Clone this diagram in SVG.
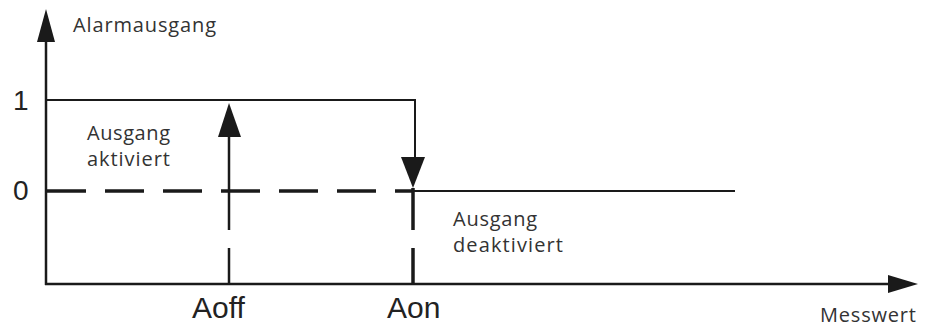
<svg xmlns="http://www.w3.org/2000/svg" width="933" height="333" viewBox="0 0 933 333">
<style>
.ln{stroke:#1a1a1a;fill:none}
.ah{fill:#1a1a1a}
.t{font-family:"Open Sans","Noto Sans",sans-serif;fill:#333;font-size:20px}
.a{font-family:"Liberation Sans",Arial,sans-serif;fill:#222}
</style>
<rect width="933" height="333" fill="#fff"/>
<g id="connectors">
<line class="ln" x1="46" y1="285" x2="46" y2="38" stroke-width="2.5"/>
<polygon class="ah" points="46,9 37,42 55,42"/>
<line class="ln" x1="45" y1="284" x2="892" y2="284" stroke-width="2.5"/>
<polygon class="ah" points="918,284 888,275 888,293"/>
<polyline class="ln" points="46,100 415,100 415,160" stroke-width="2"/>
<polygon class="ah" points="413,188 401,157 425,157"/>
<line class="ln" x1="47" y1="191" x2="413" y2="191" stroke-width="3.5" stroke-dasharray="39 19"/>
<line class="ln" x1="413" y1="191" x2="735" y2="191" stroke-width="2"/>
<line class="ln" x1="229" y1="191" x2="229" y2="134" stroke-width="2.5"/>
<polygon class="ah" points="229,103 218,137 241,137"/>
<line class="ln" x1="229" y1="191" x2="229" y2="230" stroke-width="2.5"/>
<line class="ln" x1="229" y1="248" x2="229" y2="285" stroke-width="2.5"/>
<line class="ln" x1="413" y1="188" x2="413" y2="230" stroke-width="3.5"/>
<line class="ln" x1="413" y1="248" x2="413" y2="285" stroke-width="3.5"/>
</g>
<g id="labels">
<text class="t" x="73" y="32" textLength="143" lengthAdjust="spacing">Alarmausgang</text>
<text class="a" x="13" y="110" font-size="28">1</text>
<text class="a" x="13" y="200" font-size="28">0</text>
<text class="t" x="87" y="140" textLength="83" lengthAdjust="spacing">Ausgang</text>
<text class="t" x="87" y="166" textLength="83" lengthAdjust="spacing">aktiviert</text>
<text class="t" x="453" y="226" textLength="84" lengthAdjust="spacing">Ausgang</text>
<text class="t" x="453" y="252" textLength="110" lengthAdjust="spacing">deaktiviert</text>
<text class="a" x="192" y="318" font-size="30">Aoff</text>
<text class="a" x="387" y="318" font-size="30">Aon</text>
<text class="t" x="820" y="322" textLength="96" lengthAdjust="spacing">Messwert</text>
</g>
</svg>
